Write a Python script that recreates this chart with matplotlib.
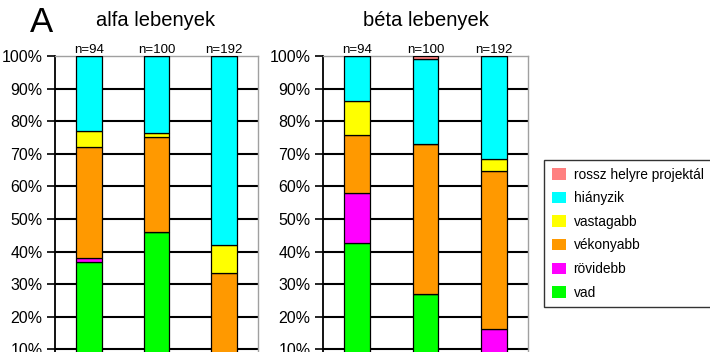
import matplotlib
matplotlib.use('Agg')
import matplotlib.pyplot as plt
from matplotlib.patches import Patch
import numpy as np

plt.rcParams['font.family'] = ['Liberation Sans', 'DejaVu Sans']

# stacking order, bottom to top
categories = ['vad', 'rövidebb', 'vékonyabb', 'vastagabb', 'hiányzik', 'rossz helyre projektál']
colors = ['#00FF00', '#FF00FF', '#FF9900', '#FFFF00', '#00FFFF', '#FF8080']
n_labels = ['n=94', 'n=100', 'n=192']

# percentages per bar (bar1, bar2, bar3)
alfa = {
    'vad':                    [36.7, 46.1, 0.0],
    'rövidebb':               [1.2, 0.0, 0.0],
    'vékonyabb':              [34.3, 29.1, 33.4],
    'vastagabb':              [4.9, 1.1, 8.6],
    'hiányzik':               [22.9, 23.7, 58.0],
    'rossz helyre projektál': [0.0, 0.0, 0.0],
}
beta = {
    'vad':                    [42.7, 26.9, 0.0],
    'rövidebb':               [15.4, 0.0, 16.3],
    'vékonyabb':              [17.7, 46.0, 48.4],
    'vastagabb':              [10.4, 0.0, 3.6],
    'hiányzik':               [13.8, 26.3, 31.7],
    'rossz helyre projektál': [0.0, 0.8, 0.0],
}

W, H = 710, 352
fig = plt.figure(figsize=(W / 100, H / 100), dpi=100)

def px_axes(x0, x1, y_top, y_bottom):
    return fig.add_axes([x0 / W, 1 - y_bottom / H, (x1 - x0) / W, (y_bottom - y_top) / H])

def draw_panel(ax, data, title, title_x):
    x = np.arange(len(n_labels))
    bottom = np.zeros(len(n_labels))
    for cat, col in zip(categories, colors):
        vals = np.array(data[cat]) / 100
        ax.bar(x, vals, bottom=bottom, width=0.38, color=col,
               edgecolor='black', linewidth=0.9, zorder=3)
        bottom += vals
    ax.set_xlim(-0.5, 2.5)
    ax.set_ylim(0, 1)
    for g in np.arange(0.1, 0.95, 0.1):
        ax.axhline(g, color='black', linewidth=1.5, zorder=1)
    ax.set_yticks(np.arange(0, 1.01, 0.1))
    ax.set_yticklabels([f'{int(round(t * 100))}%' for t in np.arange(0, 1.01, 0.1)], fontsize=11.5)
    ax.tick_params(axis='y', length=6, width=1.2, pad=3)
    ax.set_xticks([])
    ax.spines['left'].set_linewidth(1.3)
    for s in ['top', 'right', 'bottom']:
        ax.spines[s].set_color('#a0a0a0')
        ax.spines[s].set_linewidth(1.0)
    for xi, lab in zip(x, n_labels):
        ax.text(xi, 1.0, lab, ha='center', va='bottom', fontsize=9.5,
                transform=ax.get_xaxis_transform())
    fig.text(title_x / W, 1 - 21 / H, title, ha='center', va='center', fontsize=14.5)

ax1 = px_axes(55, 258, 56, 382)
draw_panel(ax1, alfa, 'alfa lebenyek', 156)
ax2 = px_axes(323, 528, 56, 382)
draw_panel(ax2, beta, 'béta lebenyek', 426)

fig.text(30 / W, 1 - 22 / H, 'A', ha='left', va='center', fontsize=25)

handles = [Patch(facecolor=c, edgecolor='none', label=l)
           for c, l in zip(colors[::-1], categories[::-1])]
leg = fig.legend(handles=handles, loc='upper left', bbox_to_anchor=(544 / W, 1 - 160 / H),
                 fontsize=9.9, frameon=True, fancybox=False, edgecolor='black',
                 handlelength=1.05, handleheight=0.9, labelspacing=0.7,
                 borderpad=0.55, handletextpad=0.55, borderaxespad=0)
leg.get_frame().set_linewidth(1.0)

fig.savefig('out.png', dpi=100)
